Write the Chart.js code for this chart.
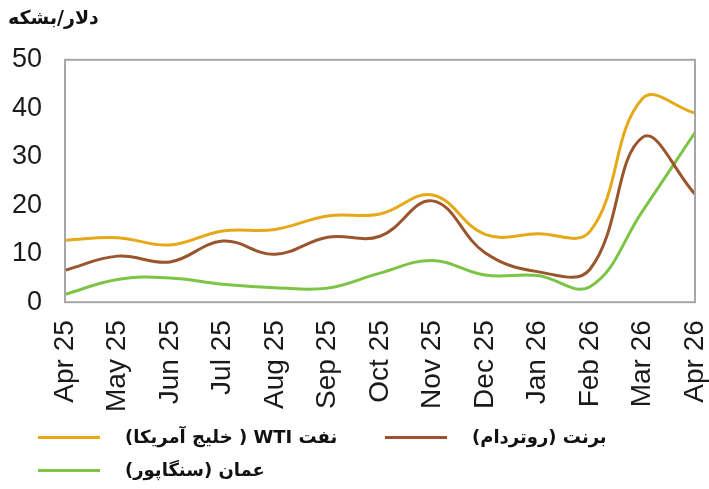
<!DOCTYPE html>
<html>
<head>
<meta charset="utf-8">
<script src="https://cdn.jsdelivr.net/npm/chart.js@4.4.1/dist/chart.umd.min.js"></script>
<style>
    body { margin: 0; background: #fff; }
    #wrap { position: relative; width: 709px; height: 489px; }
    .leg { position: absolute; font: bold 18px "DejaVu Sans", sans-serif; color: #111; }
    .leg .ln { position: absolute; left: 0; top: 10px; width: 62px; height: 3px; }
    .leg .tx { position: absolute; left: 87px; top: 0; white-space: nowrap; }
</style>
</head>
<body>
<div id="wrap">
    <canvas id="oilChart"></canvas>
    <div class="leg" style="left:38px; top:426px;"><div class="ln" style="background:#e6a817"></div><div class="tx" dir="rtl">نفت WTI ( خلیج آمریکا)</div></div>
    <div class="leg" style="left:385px; top:426px;"><div class="ln" style="background:#9a552c"></div><div class="tx" dir="rtl">برنت (روتردام)</div></div>
    <div class="leg" style="left:38px; top:459px;"><div class="ln" style="background:#7cc444"></div><div class="tx" dir="rtl">عمان (سنگاپور)</div></div>
</div>
<script>
//months on the x axis
const months = ['Apr 25', 'May 25', 'Jun 25', 'Jul 25', 'Aug 25', 'Sep 25', 'Oct 25',
    'Nov 25', 'Dec 25', 'Jan 26', 'Feb 26', 'Mar 26', 'Apr 26'];

//series values (dollars per barrel)
const wti = [12.8, 13.3, 11.8, 14.7, 15.0, 17.8, 18.2, 22.1, 14.0, 14.1, 14.6, 42.0, 39.0];
const brent = [6.6, 9.5, 8.3, 12.6, 9.9, 13.4, 13.6, 20.9, 10.2, 6.3, 6.8, 34.0, 22.3];
const oman = [1.6, 4.7, 5.0, 3.7, 3.0, 2.9, 6.0, 8.6, 5.6, 5.5, 3.2, 18.8, 35.0];

//y axis ticks
const yTicks = [0, 10, 20, 30, 40, 50];

//draw a box round the plot area
const boxPlugin = {
    id: 'plotBox',
    afterDraw(chart) {
        const a = chart.chartArea;
        const c = chart.ctx;
        c.save();
        c.strokeStyle = '#a6a6a6';
        c.lineWidth = 2;
        c.strokeRect(a.left, a.top, a.right - a.left, a.bottom - a.top);
        c.restore();
    }
};

const oilChart = new Chart(document.getElementById('oilChart'), {
    type: 'line',
    data: {
        labels: months,
        datasets: [
            { label: 'نفت WTI ( خلیج آمریکا)', data: wti, borderColor: '#e6a817' },
            { label: 'برنت (روتردام)', data: brent, borderColor: '#9a552c' },
            { label: 'عمان (سنگاپور)', data: oman, borderColor: '#7cc444' }
        ]
    },
    options: {
        responsive: true,
        maintainAspectRatio: false,
        animation: false,
        elements: {
            line: { borderWidth: 3, tension: 0.4, fill: false },
            point: { radius: 0 }
        },
        layout: { padding: { left: 8, right: 14, top: 0, bottom: 59 } },
        plugins: {
            legend: { display: false },
            tooltip: { enabled: false },
            title: {
                display: true,
                text: 'دلار/بشکه',
                align: 'start',
                color: '#111',
                font: { family: 'DejaVu Sans', size: 19, weight: 'bold' },
                padding: { top: 8, bottom: 29 }
            }
        },
        scales: {
            x: {
                offset: false,
                grid: { display: false, tickLength: 0 },
                border: { display: false },
                afterFit(scale) {
                    scale.paddingLeft = 0;
                    scale.paddingRight = 0;
                },
                ticks: {
                    minRotation: 90,
                    maxRotation: 90,
                    padding: 18,
                    color: '#1a1a1a',
                    font: { family: 'Liberation Sans', size: 28 }
                }
            },
            y: {
                min: 0,
                max: 50,
                afterBuildTicks(scale) {
                    scale.ticks = yTicks.map(v => ({ value: v }));
                },
                afterFit(scale) {
                    scale.width = 57;
                },
                grid: { display: false, tickLength: 0 },
                border: { display: false },
                ticks: {
                    padding: 23,
                    color: '#1a1a1a',
                    font: { family: 'Liberation Sans', size: 27 }
                }
            }
        }
    },
    plugins: [boxPlugin]
});
</script>
</body>
</html>
